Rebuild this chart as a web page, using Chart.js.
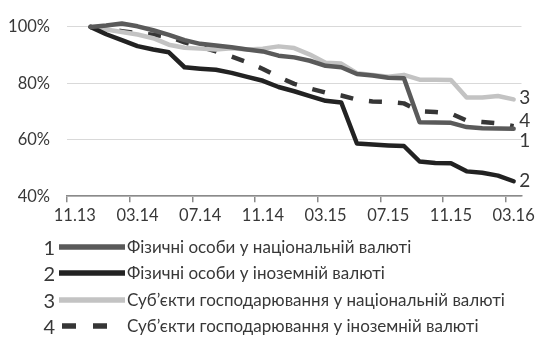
<!DOCTYPE html>
<html>
<head>
<meta charset="utf-8">
<script src="https://cdn.jsdelivr.net/npm/chart.js@4.4.1/dist/chart.umd.min.js"></script>
<style>
  html, body { margin: 0; padding: 0; background: #fff; }
  #wrap { position: relative; width: 539px; height: 345px; overflow: hidden; }
  #chart { position: absolute; left: 0; top: 0; }
  .row { position: absolute; left: 0; height: 26px; width: 539px;
         font-family: Lato, "Noto Sans", sans-serif; color: #383838; }
  .num { position: absolute; left: 34px; width: 21px; text-align: right; font-size: 20px; line-height: 26px; }
  .sample { position: absolute; left: 57px; top: 9px; }
  .txt { position: absolute; left: 127px; font-size: 17px; line-height: 26px; white-space: nowrap; }
</style>
</head>
<body>
<div id="wrap">
  <canvas id="chart" width="539" height="345"></canvas>
  <div id="legend"></div>
</div>
<script>
// Monthly categories, Nov 2013 – Mar 2016; a label is printed every fourth month
const months = [
  '11.13','12.13','01.14','02.14','03.14','04.14','05.14','06.14','07.14','08.14',
  '09.14','10.14','11.14','12.14','01.15','02.15','03.15','04.15','05.15','06.15',
  '07.15','08.15','09.15','10.15','11.15','12.15','01.16','02.16','03.16'
];
const labelStep = 4;

// Loan balances as % of the starting level (series begin in Dec 2013 = 100%)
const individualsNational = [null,
  100, 100.5, 101.2, 100.2, 98.8, 97.2, 95.3, 94.0, 93.4, 92.8,
  92.0, 91.3, 89.8, 89.2, 88.0, 86.2, 85.7, 83.3, 82.8, 82.0,
  81.8, 66.2, 66.1, 66.0, 64.5, 64.1, 64.0, 63.9];
const individualsForeign = [null,
  100, 97.4, 95.3, 93.2, 92.0, 91.0, 85.7, 85.2, 84.8, 83.7,
  82.3, 80.9, 78.7, 77.2, 75.5, 73.8, 73.2, 58.7, 58.3, 58.0,
  57.8, 52.3, 51.8, 51.7, 48.8, 48.3, 47.3, 45.3];
const businessNational = [null,
  100, 99.1, 98.2, 97.3, 96.0, 93.7, 92.6, 92.3, 92.0, 92.4,
  92.0, 92.3, 93.1, 92.5, 90.2, 87.3, 87.0, 83.6, 83.0, 82.3,
  83.0, 81.3, 81.3, 81.2, 75.0, 75.0, 75.5, 74.3];
const businessForeign = [null,
  100, 99.2, 98.5, 97.8, 97.2, 96.5, 94.5, 93.0, 91.3, 89.5,
  87.5, 85.1, 82.3, 79.8, 78.2, 76.7, 75.7, 74.2, 73.6, 73.4,
  72.9, 70.1, 69.8, 69.3, 66.8, 66.3, 65.8, 64.8];

const seriesNames = [
  'Фізичні особи у національній валюті',
  'Фізичні особи у іноземній валюті',
  'Суб’єкти господарювання у національній валюті',
  'Суб’єкти господарювання у іноземній валюті'
];
const seriesNumbers = ['1', '2', '3', '4'];
const yTicks = [40, 60, 80, 100];

const textColor = '#383838';
const fontFamily = 'Lato, "Noto Sans", sans-serif';

// Pixel nudges for the number written at the end of each line
const endLabelShift = [12.5, 0, -1.5, -5];

const endLabels = {
  id: 'endLabels',
  afterDatasetsDraw(chart) {
    const ctx = chart.ctx;
    ctx.save();
    ctx.font = '19px ' + fontFamily;
    ctx.fillStyle = textColor;
    ctx.textAlign = 'center';
    ctx.textBaseline = 'middle';
    chart.data.datasets.forEach((ds, i) => {
      const pts = chart.getDatasetMeta(i).data;
      const last = pts[pts.length - 1];
      ctx.fillText(seriesNumbers[i], last.x + 11, last.y + endLabelShift[i]);
    });
    ctx.restore();
  }
};

const common = { pointRadius: 0, pointHoverRadius: 0, borderWidth: 4.5, tension: 0,
                 fill: false, clip: false, borderJoinStyle: 'round', borderCapStyle: 'round' };

const chart = new Chart(document.getElementById('chart'), {
  type: 'line',
  data: {
    labels: months,
    datasets: [
      Object.assign({ label: seriesNames[0], data: individualsNational, borderColor: '#5a5a5a' }, common),
      Object.assign({ label: seriesNames[1], data: individualsForeign, borderColor: '#222222' }, common),
      Object.assign({ label: seriesNames[2], data: businessNational, borderColor: '#c3c3c3' }, common),
      Object.assign({ label: seriesNames[3], data: businessForeign, borderColor: '#363636' }, common,
        { borderDash: [13, 16], borderCapStyle: 'butt' })
    ]
  },
  options: {
    responsive: false,
    animation: false,
    events: [],
    layout: { padding: { left: 0, right: 16, top: 21, bottom: 115 } },
    plugins: { legend: { display: false }, tooltip: { enabled: false } },
    scales: {
      x: {
        type: 'category',
        offset: true,
        grid: {
          offset: true,
          drawOnChartArea: false,
          tickLength: 6,
          lineWidth: 1.5,
          color: (c) => (c.index !== undefined && c.index % labelStep === 0) ? '#8a8a8a' : 'rgba(0,0,0,0)'
        },
        border: { display: true, color: '#8a8a8a', width: 1.5 },
        ticks: {
          autoSkip: false,
          maxRotation: 0,
          padding: 4,
          color: textColor,
          font: { family: fontFamily, size: 16.5 },
          callback: (v, i) => (i % labelStep === 0 ? months[i] : '')
        }
      },
      y: {
        min: 40,
        max: 100,
        afterBuildTicks: (s) => { s.ticks = yTicks.map(v => ({ value: v })); },
        afterFit: (s) => { s.width = 67; },
        grid: { color: '#d9d9d9', lineWidth: 1, drawTicks: false },
        border: { display: false },
        ticks: {
          padding: 17,
          color: textColor,
          font: { family: fontFamily, size: 16.5 },
          callback: (v) => v + '%'
        }
      }
    }
  },
  plugins: [endLabels]
});

// Legend below the plot, built from the datasets
const legend = document.getElementById('legend');
chart.data.datasets.forEach((ds, i) => {
  const row = document.createElement('div');
  row.className = 'row';
  row.style.top = (234 + i * 26.3) + 'px';
  const dashed = !!ds.borderDash;
  const line = dashed
    ? '<line x1="5" y1="4" x2="51" y2="4" stroke="' + ds.borderColor + '" stroke-width="5.5" stroke-dasharray="14 17"/>'
    : '<line x1="2" y1="4" x2="68" y2="4" stroke="' + ds.borderColor + '" stroke-width="5.5"/>';
  row.innerHTML =
    '<span class="num">' + seriesNumbers[i] + '</span>' +
    '<svg class="sample" width="70" height="8">' + line + '</svg>' +
    '<span class="txt">' + ds.label + '</span>';
  legend.appendChild(row);
});
</script>
</body>
</html>
